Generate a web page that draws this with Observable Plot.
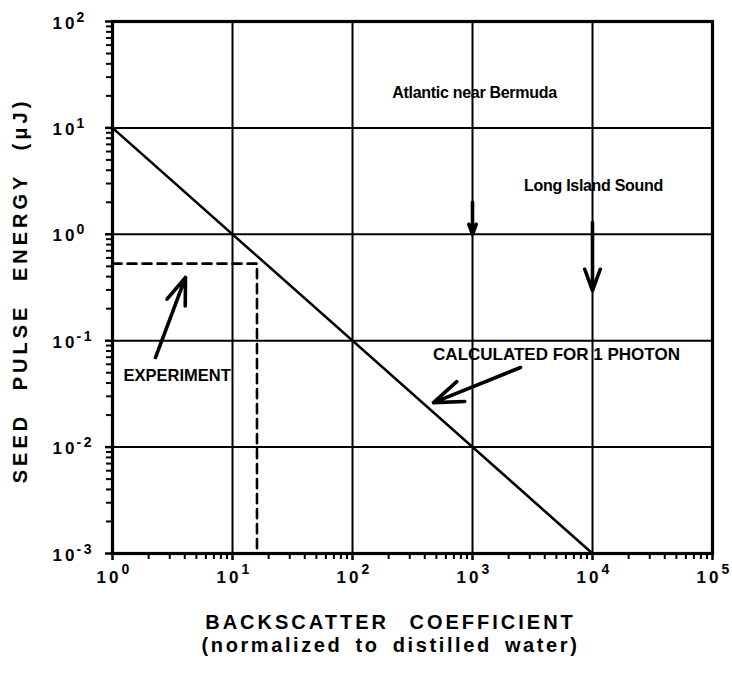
<!DOCTYPE html>
<html>
<head>
<meta charset="utf-8">
<script src="https://cdn.jsdelivr.net/npm/d3@7"></script>
<script src="https://cdn.jsdelivr.net/npm/@observablehq/plot@0.6"></script>
<style>
  html, body { margin: 0; padding: 0; background: #fff; }
  svg { display: block; }
</style>
</head>
<body>
<div id="chart"></div>
<script>
// Decade positions and their exponents on each axis
const xDecades = [1, 10, 100, 1000, 10000, 100000];
const xExponents = ["0", "1", "2", "3", "4", "5"];
const yDecades = [0.001, 0.01, 0.1, 1, 10, 100];
const yExponents = ["-3", "-2", "-1", "0", "1", "2"];

// Calculated seed energy needed for 1 photon (falls as 10 / backscatter)
const calcBackscatter = [1, 10000];
const calcEnergy = [10, 0.001];

// Experimental operating point
const experimentBackscatter = 16;
const experimentEnergy = 0.53;

// Annotation text
const mixedLabels = [
  {text: "Atlantic near Bermuda", x: 1040, y: 21.5},
  {text: "Long Island Sound", x: 10200, y: 2.88}
];
const experimentLabel = [{text: "EXPERIMENT", x: 1.235, y: 0.047}];
const calcLabel = [{text: "CALCULATED FOR 1 PHOTON", x: 5012, y: 0.0742}];

const yTitle = "SEED PULSE ENERGY (\u03bcJ)";
const xTitle = "BACKSCATTER COEFFICIENT";
const xSubtitle = "(normalized to distilled water)";

// Pointer arrows (tail -> head)
const arrows = [
  {x1: 2.28, y1: 0.0695, x2: 4.06, y2: 0.393},
  {x1: 2512, y1: 0.056, x2: 473, y2: 0.0262},
  {x1: 1000, y1: 2.0, x2: 1000, y2: 1.0},
  {x1: 10000, y1: 1.29, x2: 10000, y2: 0.296}
];

// Minor (2..9) tick positions within each decade
const minorX = [];
for (let d = 1; d < 100000; d *= 10) for (let k = 2; k <= 9; k++) minorX.push(d * k);
const minorY = [];
for (let d = 0.001; d < 99; d *= 10) for (let k = 2; k <= 9; k++) minorY.push(+(d * k).toPrecision(3));

const calcLine = calcBackscatter.map((x, i) => ({x, y: calcEnergy[i]}));
const expLine = [
  {x: 1, y: experimentEnergy},
  {x: experimentBackscatter, y: experimentEnergy},
  {x: experimentBackscatter, y: 0.001}
];

const font = "'Liberation Sans', Arial, Helvetica, sans-serif";
const xTicks = xDecades.map((v, i) => ({v, e: xExponents[i]}));
const yTicks = yDecades.map((v, i) => ({v, e: yExponents[i]}));
const ink = {fill: "#000", fontWeight: "bold"};

const chart = Plot.plot({
  width: 732,
  height: 675,
  marginLeft: 112,
  marginRight: 20,
  marginTop: 21,
  marginBottom: 122,
  style: {fontFamily: font, background: "#fff", color: "#000"},
  x: {type: "log", domain: [1, 100000], axis: null},
  y: {type: "log", domain: [0.001, 100], axis: null},
  marks: [
    Plot.gridX(xDecades, {stroke: "#000", strokeOpacity: 1, strokeWidth: 2}),
    Plot.gridY(yDecades, {stroke: "#000", strokeOpacity: 1, strokeWidth: 2}),
    Plot.axisX(minorX, {anchor: "bottom", tickSize: 6, strokeWidth: 2, text: null, label: null}),
    Plot.axisY(minorY, {anchor: "left", tickSize: 6, strokeWidth: 2, text: null, label: null}),
    Plot.axisX(xDecades, {anchor: "bottom", tickSize: 7, strokeWidth: 2.5, text: null, label: null}),
    Plot.axisY(yDecades, {anchor: "left", tickSize: 7, strokeWidth: 2.5, text: null, label: null}),
    Plot.frame({stroke: "#000", strokeWidth: 3.2}),
    // x tick labels: "10" with raised exponent
    Plot.text(xTicks, {...ink, x: "v", y: () => 0.001, text: () => "10",
      textAnchor: "start", lineAnchor: "bottom", dx: -16, dy: 29, fontSize: 17}),
    Plot.text(xTicks, {...ink, x: "v", y: () => 0.001, text: "e",
      textAnchor: "start", lineAnchor: "bottom", dx: 9, dy: 20, fontSize: 14}),
    // y tick labels
    Plot.text(yTicks, {...ink, x: () => 1, y: "v", text: () => "10",
      textAnchor: "start", lineAnchor: "bottom", dx: -60, dy: 7, fontSize: 17}),
    Plot.text(yTicks, {...ink, x: () => 1, y: "v", text: "e",
      textAnchor: "start", lineAnchor: "bottom", dx: -36, dy: 0, fontSize: 14}),
    // calculated 1-photon line
    Plot.line(calcLine, {x: "x", y: "y", stroke: "#000", strokeWidth: 2.6}),
    // experimental point guide lines
    Plot.line(expLine, {x: "x", y: "y", stroke: "#000", strokeWidth: 2.6, strokeDasharray: "9,6"}),
    Plot.arrow(arrows, {x1: "x1", y1: "y1", x2: "x2", y2: "y2", stroke: "#000", strokeWidth: 3.6,
      headLength: 18, headAngle: 40}),
    Plot.text(mixedLabels, {...ink, x: "x", y: "y", text: "text", fontSize: 16}),
    Plot.text(experimentLabel, {...ink, x: "x", y: "y", text: "text", textAnchor: "start", fontSize: 16.5}),
    Plot.text(calcLabel, {...ink, x: "x", y: "y", text: "text", fontSize: 17}),
    // axis titles
    Plot.text([yTitle], {...ink, frameAnchor: "left", textAnchor: "middle", rotate: -90,
      dx: -92, dy: 3, fontSize: 20}),
    Plot.text([xTitle], {...ink, frameAnchor: "bottom", textAnchor: "middle", lineAnchor: "bottom",
      dx: -22, dy: 75, fontSize: 20}),
    Plot.text([xSubtitle], {...ink, frameAnchor: "bottom", textAnchor: "middle", lineAnchor: "bottom",
      dx: -22, dy: 98, fontSize: 20})
  ]
});

// Letter spacing for the widely set labels
const spacing = new Map([
  ["10", "3px"],
  ["-1", "2.5px"], ["-2", "2.5px"], ["-3", "2.5px"],
  [yTitle, "4px"],
  [xTitle, "3px"],
  [xSubtitle, "2.6px"],
  ["Atlantic near Bermuda", "-0.3px"],
  ["Long Island Sound", "-0.3px"]
]);
const wordSpacing = new Map([[yTitle, "13px"], [xTitle, "12px"], [xSubtitle, "5px"]]);
d3.select(chart).selectAll("text").each(function () {
  const t = this.textContent;
  if (spacing.has(t)) this.style.letterSpacing = spacing.get(t);
  if (wordSpacing.has(t)) this.style.wordSpacing = wordSpacing.get(t);
});
document.getElementById("chart").appendChild(chart);
</script>
</body>
</html>
